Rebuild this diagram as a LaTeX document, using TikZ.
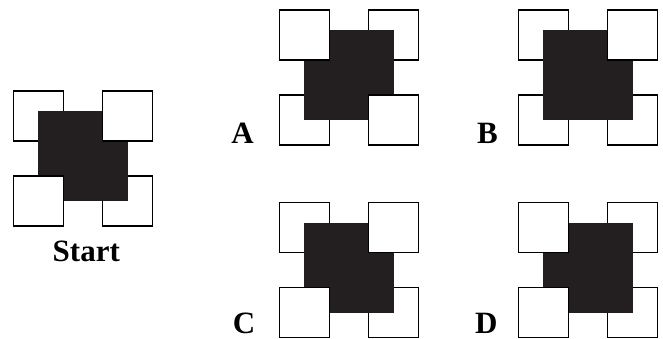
\documentclass[tikz,border=0pt]{standalone}
\usepackage{fontspec}
\setmainfont{Liberation Serif}
\definecolor{nerofigura}{RGB}{35,31,32}
\begin{document}
\begin{tikzpicture}[
    x=1pt,y=-1pt,
    quadrato/.style={draw,fill=white,line width=1.4pt},
    pieno/.style={fill=nerofigura},
    etichetta/.style={font=\fontsize{31}{36}\selectfont\bfseries,inner sep=0pt,anchor=base}]

  \useasboundingbox (0,0) rectangle (663,338);

  % ---- figura di partenza ---------------------------------------------------
  \begin{scope}[shift={(13.3,91)}]
    \draw[quadrato] (0,0)   rectangle (50,50);
    \draw[quadrato] (89,85) rectangle (139,135);
    \fill[pieno] (25,20.3) rectangle (114.5,109.8);
    \draw[quadrato] (89,0)  rectangle (139,50);
    \draw[quadrato] (0,85)  rectangle (50,135);
  \end{scope}
  \node[etichetta] (start) at (86.3,261) {Start};

  % ---- risposta A -----------------------------------------------------------
  \begin{scope}[shift={(279.3,10)}]
    \draw[quadrato] (89,0)  rectangle (139,50);
    \draw[quadrato] (0,85)  rectangle (50,135);
    \fill[pieno] (25,20.3) rectangle (114.5,109.8);
    \draw[quadrato] (0,0)   rectangle (50,50);
    \draw[quadrato] (89,85) rectangle (139,135);
  \end{scope}
  \node[etichetta] (a) at (242.5,143.3) {A};

  % ---- risposta B -----------------------------------------------------------
  \begin{scope}[shift={(518.3,10)}]
    \draw[quadrato] (0,0)   rectangle (50,50);
    \draw[quadrato] (0,85)  rectangle (50,135);
    \draw[quadrato] (89,85) rectangle (139,135);
    \fill[pieno] (25,20.3) rectangle (114.5,109.8);
    \draw[quadrato] (89,0)  rectangle (139,50);
  \end{scope}
  \node[etichetta] (b) at (487.5,143.3) {B};

  % ---- risposta C -----------------------------------------------------------
  \begin{scope}[shift={(279.3,202.7)}]
    \draw[quadrato] (0,0)   rectangle (50,50);
    \draw[quadrato] (89,85) rectangle (139,135);
    \fill[pieno] (25,20.3) rectangle (114.5,109.8);
    \draw[quadrato] (89,0)  rectangle (139,50);
    \draw[quadrato] (0,85)  rectangle (50,135);
  \end{scope}
  \node[etichetta] (c) at (244,333.3) {C};

  % ---- risposta D -----------------------------------------------------------
  \begin{scope}[shift={(518.3,202.7)}]
    \draw[quadrato] (89,0)  rectangle (139,50);
    \draw[quadrato] (89,85) rectangle (139,135);
    \fill[pieno] (25,20.3) rectangle (114.5,109.8);
    \draw[quadrato] (0,0)   rectangle (50,50);
    \draw[quadrato] (0,85)  rectangle (50,135);
  \end{scope}
  \node[etichetta] (d) at (486.4,333.3) {D};

\end{tikzpicture}
\end{document}
